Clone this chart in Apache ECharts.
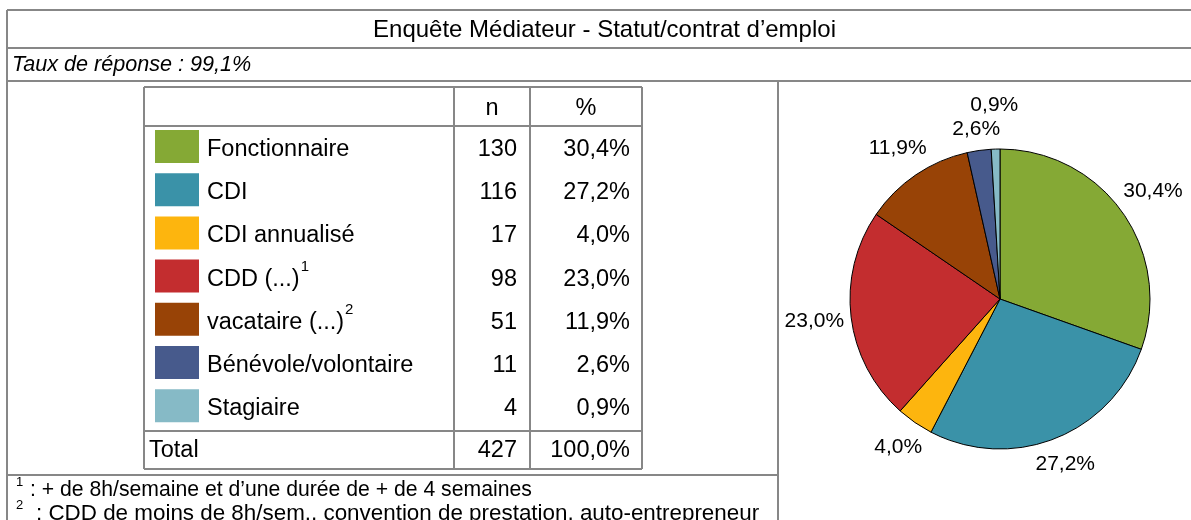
<!DOCTYPE html>
<html><head><meta charset="utf-8">
<script src="https://cdn.jsdelivr.net/npm/echarts@6/dist/echarts.min.js"></script>
<style>html,body{margin:0;padding:0;background:#fff}#c{width:1191px;height:520px}</style>
</head><body><div id="c"></div>
<script>
// ---- data ----
const title = 'Enquête Médiateur - Statut/contrat d’emploi';
const subtitle = 'Taux de réponse : 99,1%';
const headers = ['n', '%'];
const categories = ['Fonctionnaire', 'CDI', 'CDI annualisé', 'CDD (...)', 'vacataire (...)', 'Bénévole/volontaire', 'Stagiaire'];
const categoryNotes = ['', '', '', '1', '2', '', ''];
const counts = [130, 116, 17, 98, 51, 11, 4];
const percents = [30.4, 27.2, 4.0, 23.0, 11.9, 2.6, 0.9];
const colors = ['#85A935', '#3A92A8', '#FDB50E', '#C32D2F', '#984306', '#475A8C', '#86BAC6'];
const totalLabel = 'Total';
const totalCount = 427;
const totalPercent = 100.0;
const footnotes = [
  ['1', ': + de 8h/semaine et d’une durée de + de 4 semaines'],
  ['2', ': CDD de moins de 8h/sem., convention de prestation, auto-entrepreneur']
];

// ---- helpers ----
const FF = '"Liberation Sans", Arial, Helvetica, sans-serif';
const fmtPct = v => v.toFixed(1).replace('.', ',') + '%';
const cvs = document.createElement('canvas').getContext('2d');
function measure(t, size, style) { cvs.font = (style ? style + ' ' : '') + size + 'px ' + FF; return cvs.measureText(t).width; }

const LINE = '#878787';
const g = [];
function hline(x1, x2, y, w) { g.push({type: 'line', silent: true, shape: {x1, y1: y, x2, y2: y}, style: {stroke: LINE, lineWidth: w || 2}}); }
function vline(x, y1, y2, w) { g.push({type: 'line', silent: true, shape: {x1: x, y1, x2: x, y2}, style: {stroke: LINE, lineWidth: w || 2}}); }
function text(t, x, y, size, align, extra) {
  g.push({type: 'text', silent: true, x, y, style: Object.assign({text: t, fontSize: size, fontFamily: FF, fill: '#000', textAlign: align || 'left', textVerticalAlign: 'middle'}, extra || {})});
}

// ---- outer frame ----
const FL = 7, FR = 1202;
hline(FL, FR, 10); hline(FL, FR, 48); hline(FL, FR, 81);
vline(FL, 10, 520);
vline(778, 81, 520);
hline(FL, 778, 475);
text(title, (FL + FR) / 2, 30, 24, 'center');
text(subtitle, 12, 65, 21.6, 'left', {fontStyle: 'italic'});

// ---- table ----
const TFS = 23.5;
const TX = [144, 454, 530, 642];
const TTOP = 87, THEAD = 126, TSEP = 431, TBOT = 469;
const ROW0 = 148, STEP = 43.2, TDY = 1.5;
hline(TX[0], TX[3], TTOP); hline(TX[0], TX[3], THEAD); hline(TX[0], TX[3], TSEP); hline(TX[0], TX[3], TBOT);
TX.forEach(x => vline(x, TTOP, TBOT));
text(headers[0], (TX[1] + TX[2]) / 2, 107 + TDY, TFS, 'center');
text(headers[1], (TX[2] + TX[3]) / 2, 107 + TDY, TFS, 'center');
categories.forEach((c, i) => {
  const y = ROW0 + i * STEP;
  g.push({type: 'rect', silent: true, shape: {x: 155, y: y - 18, width: 44, height: 33}, style: {fill: colors[i]}});
  text(c, 207, y + TDY, TFS, 'left');
  if (categoryNotes[i]) text(categoryNotes[i], 207 + measure(c, TFS) + 1, y - 11, 15, 'left');
  text(String(counts[i]), TX[2] - 13, y + TDY, TFS, 'right');
  text(fmtPct(percents[i]), TX[3] - 12, y + TDY, TFS, 'right');
});
text(totalLabel, 149, 449 + TDY, TFS, 'left');
text(String(totalCount), TX[2] - 13, 449 + TDY, TFS, 'right');
text(fmtPct(totalPercent), TX[3] - 12, 449 + TDY, TFS, 'right');

// ---- footnotes ----
const FN_X = [30, 36], FN_FS = [21.2, 22.4];
footnotes.forEach((f, i) => {
  const y = 490 + i * 23.5;
  text(f[0], 16, y - 8, 13, 'left');
  text(f[1], FN_X[i], y, FN_FS[i], 'left');
});

// ---- pie label placement (outside end, like the original) ----
const CX = 1000, CY = 299, R = 150, GAP = 6, LFS = 21, LH = 24;
const sum = counts.reduce((a, b) => a + b, 0);
const labelPos = [];
let acc = 0;
counts.forEach((v, i) => {
  const mid = (acc + v / 2) / sum * Math.PI * 2; acc += v;
  const ux = Math.sin(mid), uy = -Math.cos(mid);
  const w = measure(fmtPct(percents[i]), LFS), h = LH;
  let d = R + GAP + Math.abs(ux) * w / 2 + Math.abs(uy) * h / 2;
  let p;
  const overl = q => labelPos.some(b => Math.abs(b.x - q.x) < (b.w + q.w) / 2 && Math.abs(b.y - q.y) < (b.h + q.h) / 2);
  do { p = {x: CX + ux * d, y: CY + uy * d, w, h}; d += 1; } while (overl(p) && d < 400);
  labelPos.push(p);
});

const chart = echarts.init(document.getElementById('c'), null, {renderer: 'canvas'});
chart.setOption({
  animation: false,
  graphic: {elements: g},
  series: [{
    type: 'pie',
    center: [CX, CY],
    radius: R,
    startAngle: 90,
    clockwise: true,
    avoidLabelOverlap: false,
    emphasis: {disabled: true},
    itemStyle: {borderColor: '#000', borderWidth: 1},
    data: categories.map((n, i) => ({name: n, value: counts[i], itemStyle: {color: colors[i]}})),
    label: {show: true, position: 'outside', formatter: p => fmtPct(percents[p.dataIndex]), fontSize: LFS, fontFamily: FF, color: '#000'},
    labelLine: {show: false},
    labelLayout: p => ({x: labelPos[p.dataIndex].x, y: labelPos[p.dataIndex].y, align: 'center', verticalAlign: 'middle'})
  }]
});
</script></body></html>
